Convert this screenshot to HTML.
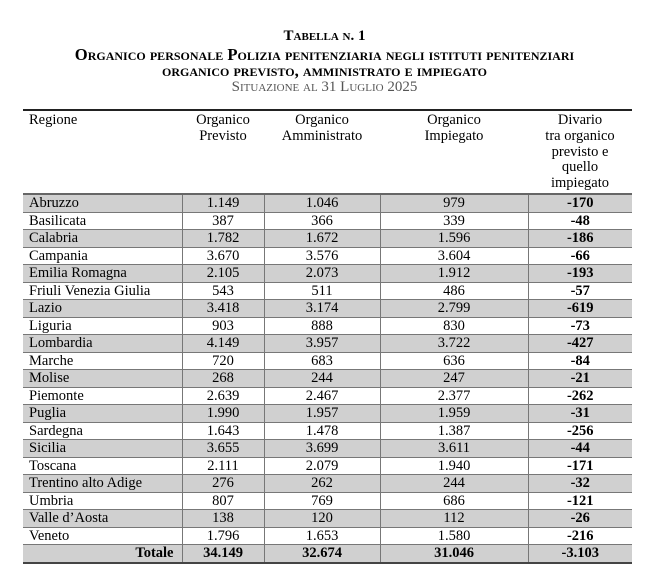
<!DOCTYPE html>
<html><head><meta charset="utf-8"><style>
body{margin:0;width:649px;height:588px;background:#fff;font-family:"Liberation Serif",serif;color:#000;position:relative;overflow:hidden}
.t{position:absolute;left:0;width:649px;text-align:center;font-weight:bold;font-variant:small-caps;white-space:nowrap;line-height:1}
table{position:absolute;left:23px;top:109px;border-collapse:collapse;width:609px;font-size:14.5px}
td{padding:0;height:16.5px;line-height:16px;text-align:center;border-left:1px solid #777;border-bottom:1px solid #777}
td:first-child{border-left:none;text-align:left;padding-left:6px}
tr.g td{background:#d0d0d0}
td:last-child{font-weight:bold}
th{font-weight:normal;vertical-align:top;padding-top:2px;line-height:15.8px;height:79px;border-bottom:2px solid #666}
th:first-child{text-align:left;padding-left:6px}
</style></head><body>
<div class="t" style="top:29px;font-size:15px">Tabella n. 1</div>
<div class="t" style="top:47px;font-size:16.6px">Organico personale Polizia penitenziaria negli istituti penitenziari</div>
<div class="t" style="top:63px;font-size:16.6px">organico previsto, amministrato e impiegato</div>
<div class="t" style="top:80px;font-size:15px;font-weight:normal;color:#555">Situazione al 31 Luglio 2025</div>
<table style="border-top:2px solid #222">
<colgroup><col style="width:159px"><col style="width:82px"><col style="width:116px"><col style="width:148px"><col style="width:104px"></colgroup>
<tr><th>Regione</th><th>Organico<br>Previsto</th><th>Organico<br>Amministrato</th><th>Organico<br>Impiegato</th><th>Divario<br>tra organico<br>previsto e<br>quello<br>impiegato</th></tr>
<tr class="g"><td>Abruzzo</td><td>1.149</td><td>1.046</td><td>979</td><td>-170</td></tr>
<tr><td>Basilicata</td><td>387</td><td>366</td><td>339</td><td>-48</td></tr>
<tr class="g"><td>Calabria</td><td>1.782</td><td>1.672</td><td>1.596</td><td>-186</td></tr>
<tr><td>Campania</td><td>3.670</td><td>3.576</td><td>3.604</td><td>-66</td></tr>
<tr class="g"><td>Emilia Romagna</td><td>2.105</td><td>2.073</td><td>1.912</td><td>-193</td></tr>
<tr><td>Friuli Venezia Giulia</td><td>543</td><td>511</td><td>486</td><td>-57</td></tr>
<tr class="g"><td>Lazio</td><td>3.418</td><td>3.174</td><td>2.799</td><td>-619</td></tr>
<tr><td>Liguria</td><td>903</td><td>888</td><td>830</td><td>-73</td></tr>
<tr class="g"><td>Lombardia</td><td>4.149</td><td>3.957</td><td>3.722</td><td>-427</td></tr>
<tr><td>Marche</td><td>720</td><td>683</td><td>636</td><td>-84</td></tr>
<tr class="g"><td>Molise</td><td>268</td><td>244</td><td>247</td><td>-21</td></tr>
<tr><td>Piemonte</td><td>2.639</td><td>2.467</td><td>2.377</td><td>-262</td></tr>
<tr class="g"><td>Puglia</td><td>1.990</td><td>1.957</td><td>1.959</td><td>-31</td></tr>
<tr><td>Sardegna</td><td>1.643</td><td>1.478</td><td>1.387</td><td>-256</td></tr>
<tr class="g"><td>Sicilia</td><td>3.655</td><td>3.699</td><td>3.611</td><td>-44</td></tr>
<tr><td>Toscana</td><td>2.111</td><td>2.079</td><td>1.940</td><td>-171</td></tr>
<tr class="g"><td>Trentino alto Adige</td><td>276</td><td>262</td><td>244</td><td>-32</td></tr>
<tr><td>Umbria</td><td>807</td><td>769</td><td>686</td><td>-121</td></tr>
<tr class="g"><td>Valle d’Aosta</td><td>138</td><td>120</td><td>112</td><td>-26</td></tr>
<tr><td>Veneto</td><td>1.796</td><td>1.653</td><td>1.580</td><td>-216</td></tr>
<tr class="g" style="font-weight:bold"><td style="text-align:right;padding-right:8px;border-bottom:2px solid #444">Totale</td><td style="border-bottom:2px solid #444">34.149</td><td style="border-bottom:2px solid #444">32.674</td><td style="border-bottom:2px solid #444">31.046</td><td style="border-bottom:2px solid #444">-3.103</td></tr>
</table>
</body></html>
